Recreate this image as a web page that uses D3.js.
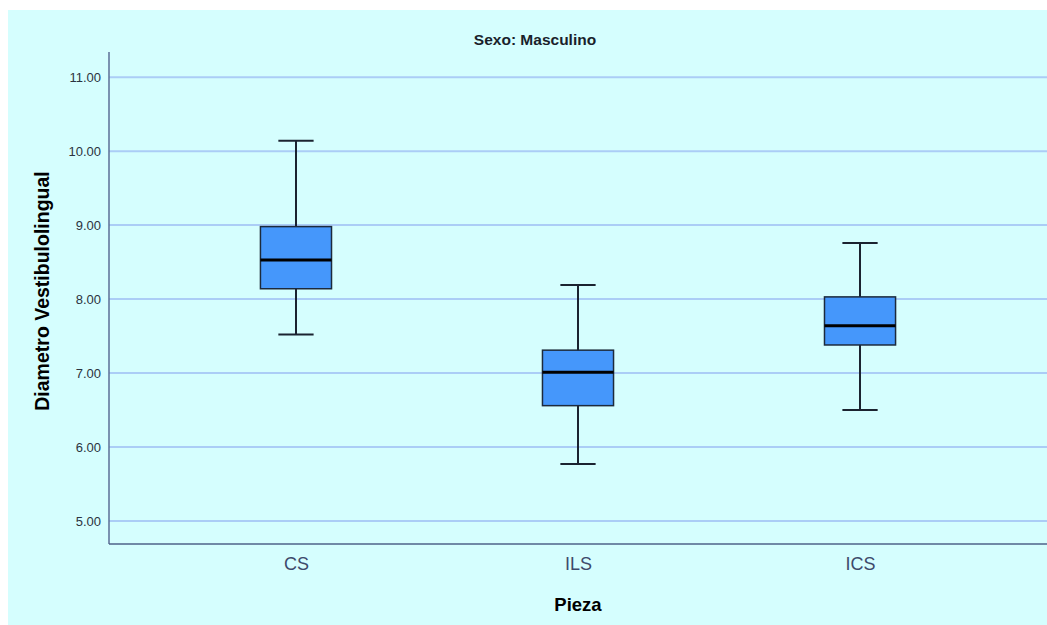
<!DOCTYPE html>
<html>
<head>
<meta charset="utf-8">
<script src="https://cdn.jsdelivr.net/npm/d3@7"></script>
<style>
  html, body { margin: 0; padding: 0; background: #ffffff; }
  svg { display: block; font-family: "Liberation Sans", Arial, sans-serif; }
</style>
</head>
<body>
<svg id="chart" width="1047" height="625"></svg>
<script>
// Box plot summaries per tooth (Pieza)
const categories = ["CS", "ILS", "ICS"];
const whiskerLow  = [7.52, 5.77, 6.50];
const quartile1   = [8.14, 6.56, 7.38];
const medians     = [8.53, 7.01, 7.64];
const quartile3   = [8.98, 7.31, 8.03];
const whiskerHigh = [10.14, 8.19, 8.76];
const yTicks = [5, 6, 7, 8, 9, 10, 11];

(function () {
const svg = d3.select("#chart");
const W = 1047, H = 625;

// panel background
svg.append("rect").attr("x", 8).attr("y", 10).attr("width", W - 8).attr("height", H - 10)
  .attr("fill", "#d5fefe");

const plotLeft = 109, plotRight = W, plotTop = 52, plotBottom = 544;

const y = d3.scaleLinear().domain([4.69, 11.34]).range([plotBottom, plotTop]);
const x = d3.scalePoint().domain(categories).range([plotLeft, plotRight]).padding(0.663);

// gridlines
svg.append("g").selectAll("line").data(yTicks).join("line")
  .attr("x1", plotLeft).attr("x2", plotRight)
  .attr("y1", d => y(d)).attr("y2", d => y(d))
  .attr("stroke", "#abcdf6").attr("stroke-width", 2);

// y axis
const yAxis = svg.append("g").attr("transform", `translate(${plotLeft},0)`)
  .call(d3.axisLeft(y).tickValues(yTicks).tickFormat(d3.format(".2f")).tickSize(0).tickPadding(8));
yAxis.select(".domain").remove();
yAxis.selectAll("text").attr("font-size", 13).attr("fill", "#2b3340")
  .attr("font-family", "Liberation Sans, Arial, sans-serif");

// x axis
const xAxis = svg.append("g").attr("transform", `translate(0,${plotBottom})`)
  .call(d3.axisBottom(x).tickSize(0).tickPadding(13));
xAxis.select(".domain").remove();
xAxis.selectAll("text").attr("font-size", 18).attr("fill", "#3d4a6b")
  .attr("font-family", "Liberation Sans, Arial, sans-serif");

// axis lines
svg.append("line").attr("x1", plotLeft).attr("x2", plotLeft).attr("y1", plotTop).attr("y2", plotBottom)
  .attr("stroke", "#5b6e96").attr("stroke-width", 1.5);
svg.append("line").attr("x1", plotLeft).attr("x2", plotRight).attr("y1", plotBottom).attr("y2", plotBottom)
  .attr("stroke", "#4e6289").attr("stroke-width", 1.5);

// boxes
const step = x.step();
const boxW = step * 0.252, capW = step * 0.125;
const idx = d3.range(categories.length);
const g = svg.append("g");

// whiskers
g.selectAll(".whisk").data(idx).join("line")
  .attr("x1", i => x(categories[i])).attr("x2", i => x(categories[i]))
  .attr("y1", i => y(whiskerLow[i])).attr("y2", i => y(whiskerHigh[i]))
  .attr("stroke", "#1b2330").attr("stroke-width", 2);
[whiskerLow, whiskerHigh].forEach(arr => {
  g.append("g").selectAll("line").data(idx).join("line")
    .attr("x1", i => x(categories[i]) - capW / 2).attr("x2", i => x(categories[i]) + capW / 2)
    .attr("y1", i => y(arr[i])).attr("y2", i => y(arr[i]))
    .attr("stroke", "#1b2330").attr("stroke-width", 2);
});

g.selectAll(".box").data(idx).join("rect")
  .attr("x", i => x(categories[i]) - boxW / 2)
  .attr("width", boxW)
  .attr("y", i => y(quartile3[i]))
  .attr("height", i => y(quartile1[i]) - y(quartile3[i]))
  .attr("fill", "#4597fb").attr("stroke", "#1c2a3c").attr("stroke-width", 1.5);

g.selectAll(".med").data(idx).join("line")
  .attr("x1", i => x(categories[i]) - boxW / 2).attr("x2", i => x(categories[i]) + boxW / 2)
  .attr("y1", i => y(medians[i])).attr("y2", i => y(medians[i]))
  .attr("stroke", "#000000").attr("stroke-width", 3);

// titles
svg.append("text").attr("x", 535).attr("y", 45).attr("text-anchor", "middle")
  .attr("font-size", 15.5).attr("font-weight", "bold").attr("fill", "#1a1f2b")
  .text("Sexo: Masculino");

svg.append("text").attr("transform", "translate(49,291) rotate(-90)")
  .attr("text-anchor", "middle").attr("font-size", 19.5).attr("font-weight", "bold").attr("fill", "#000")
  .text("Diametro Vestibulolingual");

svg.append("text").attr("x", 578).attr("y", 611).attr("text-anchor", "middle")
  .attr("font-size", 18.5).attr("font-weight", "bold").attr("fill", "#000")
  .text("Pieza");
})();
</script>
</body>
</html>
